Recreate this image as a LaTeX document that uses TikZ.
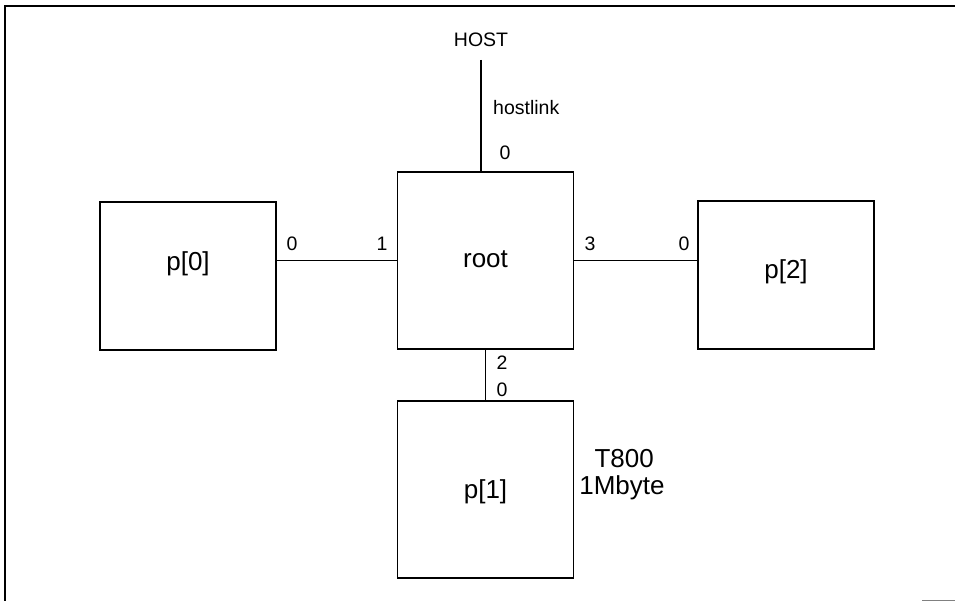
\documentclass[tikz,border=0pt]{standalone}
\usepackage{fontspec}
\setmainfont{Liberation Sans}
\begin{document}
\begin{tikzpicture}[x=1pt,y=-1pt,
  box/.style={draw,line width=1.2pt,inner sep=0pt,outer sep=0pt,minimum width=176pt,minimum height=148pt},
  bigtext/.style={font=\fontsize{26}{30}\selectfont,inner sep=0pt},
  small/.style={font=\fontsize{19.5}{22}\selectfont,inner sep=0pt},
  link/.style={line width=1.2pt}]
\useasboundingbox (0,0) rectangle (955,601);
% frame
\draw[line width=1.3pt] (955,6) -- (5,6) -- (5,601);
\draw[line width=1pt,black!50] (922,600) -- (955,600);
% boxes
\node[box,label={[bigtext,yshift=12pt]center:p[0]}] (p0) at (188,276) {};
\node[box,minimum height=177pt,label={[bigtext,yshift=1pt]center:root}] (root) at (485.5,260.5) {};
\node[box,label={[bigtext,yshift=3pt]center:p[2]}] (p2) at (786,275) {};
\node[box,minimum height=177pt,label={[bigtext,yshift=-2pt]center:p[1]}] (p1) at (485.5,489.5) {};
% host
\node[small] (host) at (481,40) {HOST};
\coordinate (hostend) at (481,60);
\draw[link] (hostend) -- (hostend |- root.north);
\node[small,anchor=west] (hl) at (493,108) {hostlink};
% links
\draw[link] (p0.east |- root.west) -- (root.west);
\draw[link] (root.east) -- (root.east -| p2.west);
\draw[link] (root.south) -- (p1.north);
% port numbers
\node[small] (l0a) at (292,244) {0};
\node[small] (l1) at (382,244) {1};
\node[small] (l3) at (590,244) {3};
\node[small] (l0b) at (684,244) {0};
\node[small] (l0c) at (505,153) {0};
\node[small] (l2) at (502,363) {2};
\node[small] (l0d) at (502,390) {0};
% processor type
\node[bigtext,align=center] (t800) at (622,475) {\,T800\\[-3pt]1Mbyte};
\end{tikzpicture}
\end{document}
